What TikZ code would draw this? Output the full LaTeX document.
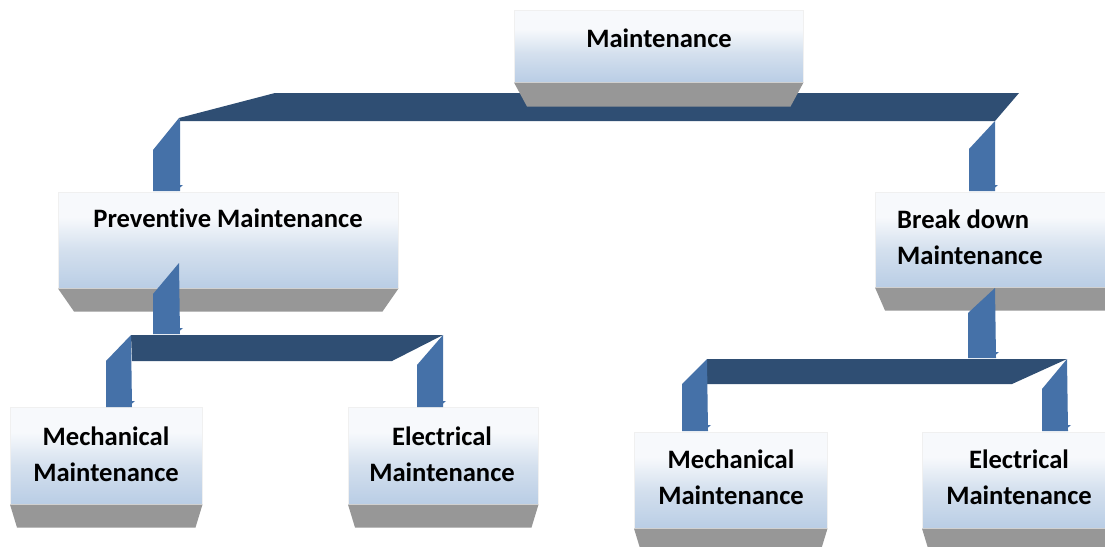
\documentclass[tikz,border=0pt]{standalone}
\usepackage{fontspec}
\setmainfont{Carlito}[Ligatures=NoCommon]
\usetikzlibrary{calc}
\definecolor{barDark}{HTML}{2F4E73}
\definecolor{barLight}{HTML}{4571A8}
\definecolor{boxBlue}{HTML}{B9CDE5}
\definecolor{boxMid}{HTML}{D4E0EE}
\definecolor{boxTop}{HTML}{F7F9FC}
\definecolor{shadeGray}{HTML}{979797}
\pgfdeclareverticalshading{faceshade}{100bp}{color(0bp)=(boxBlue); color(25bp)=(boxBlue); color(45bp)=(boxMid); color(62bp)=(boxTop); color(75bp)=(boxTop); color(100bp)=(boxTop)}
\newcommand{\mytwo}[3]{\begin{tabular}[t]{@{}#1@{}}#2\\#3\end{tabular}}
\tikzset{
  face/.style={rectangle, inner sep=0pt, shading=faceshade, draw=black!6, line width=0.5pt, anchor=north west},
  lbl/.style={inner sep=0pt, font=\fontsize{26.6}{36}\selectfont\bfseries},
  darkpart/.style={fill=barDark},
  lightpart/.style={fill=barLight},
  base/.style={fill=shadeGray}
}
\newcommand{\basepart}[3]{\fill[base] (#1.south west) -- (#1.south east) -- ($(#1.south east)+(-#2,#3)$) -- ($(#1.south west)+(#2,#3)$) -- cycle;}
\newcommand{\tick}[2]{\fill[lightpart] (#1-1,#2-6) -- (#1+3,#2-6) -- (#1-4,#2) -- cycle;}
\begin{document}
\begin{tikzpicture}[x=1pt,y=-1pt]
\useasboundingbox (0,0) rectangle (1105,546);
\clip (0,0) rectangle (1105,546);
\fill[white] (0,0) rectangle (1105,546);

% top level connector (behind boxes)
\fill[darkpart] (179,118) -- (275,93) -- (1019,93) -- (995,121) -- (180,121) -- cycle;
\fill[lightpart] (153,191) -- (153,150) -- (179,118) -- (180,121) -- (180,191) -- cycle;
\fill[lightpart] (969,191) -- (969,149) -- (995,121) -- (995,191) -- cycle;
\tick{180}{191}
\tick{995}{191}

% boxes
\node[face, minimum width=289, minimum height=72] (top) at (514,10) {};
\basepart{top}{13}{24}
\node[face, minimum width=340, minimum height=96] (prev) at (58,192) {};
\basepart{prev}{16}{23}
\node[face, minimum width=250, minimum height=95] (brk) at (875,192) {};
\basepart{brk}{10}{23}
\node[face, minimum width=192, minimum height=97] (mechL) at (10,407) {};
\basepart{mechL}{7}{23}
\node[face, minimum width=190, minimum height=97] (elecL) at (348,407) {};
\basepart{elecL}{7}{23}
\node[face, minimum width=193, minimum height=96] (mechR) at (634,432) {};
\basepart{mechR}{7}{23}
\node[face, minimum width=193, minimum height=96] (elecR) at (922,432) {};
\basepart{elecR}{7}{23}

% labels
\node[lbl, anchor=base] (tTop) at (659,47) {Maintenance};
\node[lbl, anchor=base] (tPrev) at (228,227) {Preventive Maintenance};
\node[lbl, anchor=base west] (tBrk) at (897,228) {\mytwo{l}{Break down}{Maintenance}};
\node[lbl, anchor=base] (tMechL) at (106,445) {\mytwo{c}{Mechanical}{Maintenance}};
\node[lbl, anchor=base] (tElecL) at (442,445) {\mytwo{c}{Electrical}{Maintenance}};
\node[lbl, anchor=base] (tMechR) at (731,468) {\mytwo{c}{Mechanical}{Maintenance}};
\node[lbl, anchor=base] (tElecR) at (1019,468) {\mytwo{c}{Electrical}{Maintenance}};

% left sub connector
\fill[lightpart] (153,334) -- (153,294) -- (179,263) -- (180,334) -- cycle;
\tick{180}{334}
\fill[darkpart] (131,335) -- (443,335) -- (392,361) -- (132,361) -- cycle;
\fill[lightpart] (106,407) -- (106,361) -- (131,335) -- (132,407) -- cycle;
\fill[lightpart] (417,407) -- (417,365) -- (443,335) -- (443,407) -- cycle;
\tick{132}{407}
\tick{443}{407}

% right sub connector
\fill[lightpart] (968,358) -- (968,313) -- (995,288) -- (996,358) -- cycle;
\tick{996}{358}
\fill[darkpart] (707,359) -- (1067,359) -- (1012,384) -- (707,384) -- cycle;
\fill[lightpart] (682,431) -- (682,384) -- (707,359) -- (708,431) -- cycle;
\fill[lightpart] (1042,431) -- (1042,389) -- (1067,359) -- (1068,431) -- cycle;
\tick{708}{431}
\tick{1068}{431}
\end{tikzpicture}
\end{document}
